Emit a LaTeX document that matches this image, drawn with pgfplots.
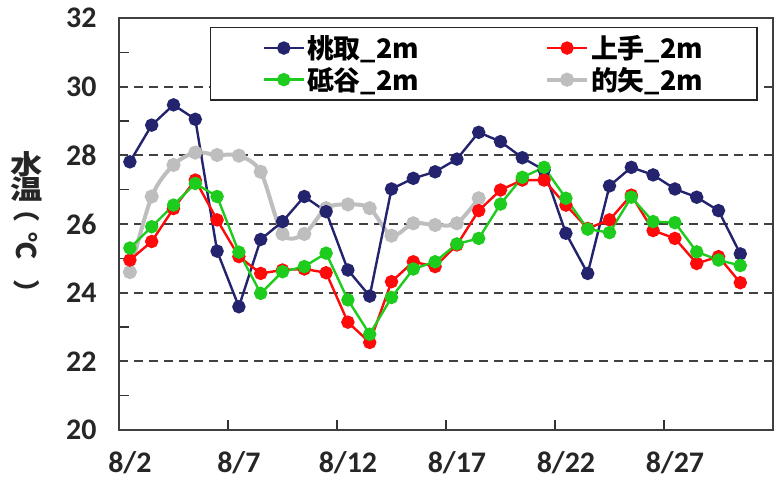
\documentclass[border=0pt]{standalone}
\usepackage{fontspec}
\setmainfont{Carlito}
\newfontfamily\cjk{Noto Sans CJK JP}
\usepackage{pgfplots}
\pgfplotsset{compat=1.18}

\definecolor{tori}{HTML}{23236E}
\definecolor{kami}{HTML}{FF0A0A}
\definecolor{toya}{HTML}{1ECC1E}
\definecolor{mato}{HTML}{BEBEBE}

\begin{document}
\begin{tikzpicture}
\path[use as bounding box] (0,0) rectangle (777bp,486bp);
\begin{axis}[
  at={(119bp,56bp)}, anchor=south west,
  scale only axis, width=654bp, height=412bp,
  xmin=1.5, xmax=31.5, ymin=20, ymax=32,
  xtick={2,7,12,17,22,27},
  xticklabels={8/2,8/7,8/12,8/17,8/22,8/27},
  minor xtick={6.5,11.5,16.5,21.5,26.5},
  ytick={20,22,...,32},
  minor ytick={21,23,...,31},
  xtick pos=bottom, ytick pos=left,
  tick align=inside,
  major tick length=0pt, minor tick length=10bp,
  every minor tick/.style={line width=1.2bp, black!80},
  ymajorgrids,
  major grid style={dash pattern=on 9bp off 6bp, line width=2bp, black!75},
  axis line style={line width=1.6bp, black!75},
  tick label style={font=\fontsize{30}{30}\selectfont\bfseries, black!85},
  /pgf/number format/assume math mode=true,
  yticklabel style={xshift=-19bp},
  xticklabel style={yshift=-18bp},
  legend columns=2,
  legend cell align=left,
  legend style={at={(0.139,0.978)}, anchor=north west,
    draw=black!85, line width=1.4bp, fill=white,
    inner xsep=52bp, inner ysep=6bp, row sep=3bp,
    font=\fontsize{27}{29}\selectfont\cjk\bfseries,
    /tikz/every even column/.append style={column sep=124bp}},
  legend image code/.code={\draw[mark repeat=2,mark phase=2] plot coordinates {(0bp,0bp) (20bp,0bp) (40bp,0bp)};},
]
\addlegendimage{tori, line width=2.4bp, mark=*, mark size=5.5bp}
\addlegendentry{桃取\_2m}
\addlegendimage{kami, line width=2.4bp, mark=*, mark size=5.5bp}
\addlegendentry{上手\_2m}
\addlegendimage{toya, line width=2.4bp, mark=*, mark size=5.5bp}
\addlegendentry{砥谷\_2m}
\addlegendimage{mato, line width=4bp, mark=*, mark size=5bp}
\addlegendentry{的矢\_2m}

% 的矢
\addplot[forget plot, mato, line width=4bp, smooth, mark=*, mark size=5bp] coordinates {
(2,24.6) (3,26.8) (4,27.72) (5,28.08) (6,28.01) (7,27.99) (8,27.52) (9,25.71)
(10,25.71) (11,26.46) (12,26.57) (13,26.46) (14,25.66) (15,26.02) (16,25.97)
(17,26.02) (18,26.75)};
% 桃取
\addplot[forget plot, tori, line width=2.4bp, mark=*, mark size=5.5bp] coordinates {
(2,27.81) (3,28.88) (4,29.47) (5,29.05) (6,25.21) (7,23.59) (8,25.55) (9,26.07)
(10,26.80) (11,26.36) (12,24.66) (13,23.90) (14,27.02) (15,27.33) (16,27.52)
(17,27.89) (18,28.67) (19,28.40) (20,27.93) (21,27.57) (22,25.73) (23,24.56)
(24,27.11) (25,27.65) (26,27.43) (27,27.02) (28,26.78) (29,26.39) (30,25.13)};
% 上手
\addplot[forget plot, kami, line width=2.4bp, mark=*, mark size=5.5bp] coordinates {
(2,24.95) (3,25.49) (4,26.45) (5,27.28) (6,26.12) (7,25.05) (8,24.56) (9,24.66)
(10,24.69) (11,24.58) (12,23.14) (13,22.55) (14,24.32) (15,24.90) (16,24.76)
(17,25.39) (18,26.39) (19,26.99) (20,27.28) (21,27.28) (22,26.55) (23,25.87)
(24,26.12) (25,26.84) (26,25.81) (27,25.58) (28,24.85) (29,25.05) (30,24.29)};
% 砥谷
\addplot[forget plot, toya, line width=2.4bp, mark=*, mark size=5.5bp] coordinates {
(2,25.30) (3,25.92) (4,26.55) (5,27.18) (6,26.80) (7,25.18) (8,23.98) (9,24.61)
(10,24.76) (11,25.15) (12,23.79) (13,22.79) (14,23.86) (15,24.69) (16,24.90)
(17,25.42) (18,25.58) (19,26.58) (20,27.36) (21,27.65) (22,26.75) (23,25.85)
(24,25.75) (25,26.78) (26,26.07) (27,26.04) (28,25.19) (29,24.95) (30,24.79)};
\end{axis}
% 縦書きの軸ラベル
\begin{scope}[every node/.style={inner sep=0pt, text=black!85,
    font=\fontsize{27}{29}\selectfont\cjk\bfseries}]
\node at (27bp,322bp) {\scalebox{1.2}[1]{水}};
\node at (27bp,297bp) {\scalebox{1.2}[1]{温}};
\node[rotate=-90] at (27bp,277bp) {（};
\node[rotate=-90] at (27bp,240bp) {℃};
\node[rotate=-90] at (27bp,193bp) {）};
\end{scope}
\end{tikzpicture}
\end{document}
